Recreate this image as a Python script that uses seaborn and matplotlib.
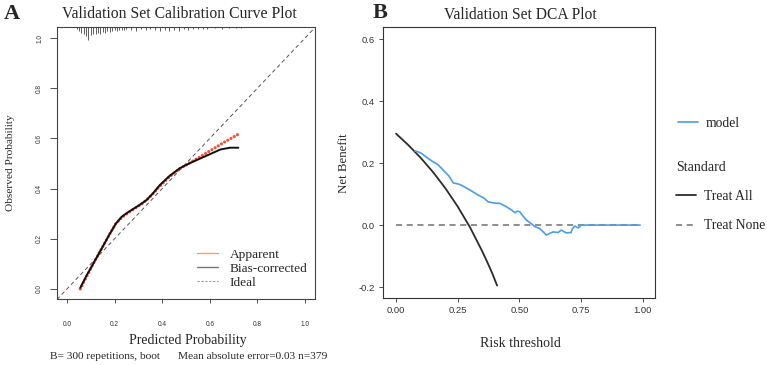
import numpy as np
import pandas as pd
import matplotlib
matplotlib.use('Agg')
import matplotlib.pyplot as plt
from matplotlib.lines import Line2D
import seaborn as sns

sns.set_theme(style='white')
plt.rcParams['font.family'] = ['Liberation Serif', 'DejaVu Serif']

# calibration curve (panel A)
pred_x = [0.056, 0.08, 0.11, 0.145, 0.18, 0.205, 0.23, 0.255, 0.28, 0.31, 0.335, 0.36, 0.39, 0.43, 0.475, 0.52, 0.56, 0.60, 0.645, 0.685, 0.72]
bias_y = [0.005, 0.05, 0.10, 0.16, 0.22, 0.26, 0.288, 0.305, 0.32, 0.338, 0.355, 0.38, 0.414, 0.45, 0.482, 0.503, 0.52, 0.537, 0.556, 0.563, 0.563]
app_y = [0.0, 0.045, 0.10, 0.16, 0.22, 0.26, 0.285, 0.302, 0.318, 0.336, 0.355, 0.378, 0.41, 0.447, 0.48, 0.505, 0.527, 0.55, 0.576, 0.598, 0.617]

# distribution of predicted probabilities (spikes on top)
rug_x = [0.04, 0.05, 0.06, 0.07, 0.08, 0.09, 0.10, 0.11, 0.12, 0.13, 0.14, 0.15, 0.16, 0.17, 0.18,
         0.19, 0.20, 0.21, 0.22, 0.23, 0.24, 0.25, 0.27, 0.29, 0.31, 0.33, 0.35, 0.37, 0.39, 0.41,
         0.43, 0.45, 0.47, 0.49, 0.51, 0.53, 0.55, 0.57, 0.59, 0.62, 0.65, 0.68, 0.71, 0.73]
rug_n = [2, 4, 6, 8, 10, 14, 9, 8, 7, 6, 8, 5, 6, 4, 5,
         4, 3, 4, 3, 3, 3, 2, 3, 4, 2, 3, 2, 3, 4, 3,
         4, 3, 4, 2, 3, 2, 2, 2, 2, 1, 2, 1, 1, 1]

# decision curve (panel B)
all_t = [0.0, 0.05, 0.10, 0.15, 0.20, 0.25, 0.30, 0.35, 0.375, 0.39, 0.41]
all_nb = [0.295, 0.258, 0.217, 0.171, 0.119, 0.060, -0.007, -0.085, -0.128, -0.155, -0.195]
model_t = [0.077, 0.09, 0.104, 0.125, 0.145, 0.17, 0.192, 0.215, 0.232, 0.245, 0.259, 0.28, 0.30, 0.333,
           0.355, 0.374, 0.40, 0.421, 0.448, 0.47, 0.482, 0.492, 0.502, 0.509, 0.529, 0.55, 0.563, 0.583,
           0.61, 0.625, 0.637, 0.657, 0.67, 0.69, 0.71, 0.715, 0.725, 0.738, 0.752, 0.85, 0.99]
model_nb = [0.239, 0.236, 0.231, 0.218, 0.207, 0.195, 0.177, 0.158, 0.136, 0.134, 0.131, 0.122, 0.113, 0.097,
            0.088, 0.075, 0.071, 0.070, 0.059, 0.048, 0.040, 0.045, 0.043, 0.035, 0.016, 0.004, -0.005, -0.011,
            -0.032, -0.026, -0.022, -0.024, -0.016, -0.025, -0.024, -0.012, -0.003, -0.009, 0.0, 0.0, 0.0]
none_t = [0.0, 0.99]
none_nb = [0.0, 0.0]

fig = plt.figure(figsize=(7.67, 3.65), dpi=100)

# ---------- panel A ----------
ax1 = fig.add_axes([0.0743, 0.1808, 0.3364, 0.7452])
ax1.set_xlim(-0.042, 1.042)
ax1.set_ylim(-0.04, 1.044)
ax1.plot([-0.042, 1.042], [-0.042, 1.042], color='#555555', lw=0.7, ls=(0, (4, 3)))
ax1.vlines(rug_x, 1.044 - np.array(rug_n) * 0.0037, 1.044, color='#444444', lw=0.6)

cal = pd.DataFrame({'x': pred_x, 'app': app_y, 'bias': bias_y})
sns.lineplot(data=cal, x='x', y='app', ax=ax1, color='#F2533B', lw=2.3,
             linestyle=(0, (0.01, 1.15)), dash_capstyle='round', sort=False)
sns.lineplot(data=cal, x='x', y='bias', ax=ax1, color='#111111', lw=1.4, sort=False)

ax1.set_xticks([0, 0.2, 0.4, 0.6, 0.8, 1.0])
ax1.set_yticks([0, 0.2, 0.4, 0.6, 0.8, 1.0])
ax1.set_xticklabels(['0.0', '0.2', '0.4', '0.6', '0.8', '1.0'])
ax1.set_yticklabels(['0.0', '0.2', '0.4', '0.6', '0.8', '1.0'], rotation=90, va='center')
ax1.tick_params(axis='x', length=3, width=0.6, color='#333333', pad=13, labelsize=4.7,
                labelcolor='#333333', labelfontfamily='Liberation Sans')
ax1.tick_params(axis='y', length=5, width=0.6, color='#333333', pad=5, labelsize=4.7,
                labelcolor='#333333', labelfontfamily='Liberation Sans')
ax1.tick_params(bottom=True, left=True)
for s in ax1.spines.values():
    s.set_color('#444444')
    s.set_linewidth(0.8)
ax1.set_xlabel('')
ax1.set_ylabel('')

h1 = [Line2D([], [], color='#F49A8E', lw=1.0),
      Line2D([], [], color='#777777', lw=1.0),
      Line2D([], [], color='#999999', lw=0.8, ls=(0, (2, 1.5)))]
fig.legend(h1, ['Apparent', 'Bias-corrected', 'Ideal'], loc='upper left',
           bbox_to_anchor=(0.257, 0.319), frameon=False, fontsize=9.6, borderpad=0, borderaxespad=0,
           handlelength=1.6, handletextpad=0.85, labelspacing=0.12)

fig.text(0.234, 0.962, 'Validation Set Calibration Curve Plot', ha='center', va='center', fontsize=11.3)
fig.text(0.016, 0.962, 'A', ha='center', va='center', fontsize=16, fontweight='bold')
fig.text(0.245, 0.066, 'Predicted Probability', ha='center', va='center', fontsize=10)
fig.text(0.065, 0.022, 'B= 300 repetitions, boot', ha='left', va='center', fontsize=8.2)
fig.text(0.232, 0.022, 'Mean absolute error=0.03 n=379', ha='left', va='center', fontsize=8.2)
fig.text(0.014, 0.555, 'Observed Probability', ha='center', va='center', rotation=90, fontsize=8.2)

# ---------- panel B ----------
ax2 = fig.add_axes([0.4993, 0.1836, 0.3546, 0.7425])
dca_all = pd.DataFrame({'t': all_t, 'nb': all_nb})
dca_model = pd.DataFrame({'t': model_t, 'nb': model_nb})
dca_none = pd.DataFrame({'t': none_t, 'nb': none_nb})
sns.lineplot(data=dca_none, x='t', y='nb', ax=ax2, color='#707070', lw=1.1, linestyle=(0, (4, 3)))
sns.lineplot(data=dca_all, x='t', y='nb', ax=ax2, color='#2b2b2b', lw=1.3)
sns.lineplot(data=dca_model, x='t', y='nb', ax=ax2, color='#4A9DE6', lw=1.2)
ax2.set_xlim(-0.053, 1.05)
ax2.set_ylim(-0.235, 0.639)
ax2.set_xticks([0, 0.25, 0.5, 0.75, 1.0])
ax2.set_xticklabels(['0.00', '0.25', '0.50', '0.75', '1.00'])
ax2.set_yticks([-0.2, 0, 0.2, 0.4, 0.6])
ax2.set_yticklabels(['-0.2', '0.0', '0.2', '0.4', '0.6'])
ax2.tick_params(length=3, width=0.6, color='#333333', pad=3, labelsize=6.8,
                labelcolor='#333333', labelfontfamily='Liberation Sans', bottom=True, left=True)
for s in ax2.spines.values():
    s.set_color('#333333')
    s.set_linewidth(0.8)
ax2.set_xlabel('')
ax2.set_ylabel('')

fig.text(0.679, 0.959, 'Validation Set DCA Plot', ha='center', va='center', fontsize=11.2)
fig.text(0.495, 0.965, 'B', ha='center', va='center', fontsize=16, fontweight='bold')
fig.text(0.679, 0.060, 'Risk threshold', ha='center', va='center', fontsize=10)
fig.text(0.449, 0.553, 'Net Benefit', ha='center', va='center', rotation=90, fontsize=9.3)

lg1 = fig.legend([Line2D([], [], color='#4A9DE6', lw=1.2)], ['model'], loc='center left',
                 bbox_to_anchor=(0.884, 0.661), frameon=False, fontsize=9.8, borderpad=0,
                 borderaxespad=0, handlelength=1.5, handletextpad=0.55)
h2 = [Line2D([], [], color='#2b2b2b', lw=1.3), Line2D([], [], color='#707070', lw=1.1, ls=(0, (4, 3)))]
lg2 = fig.legend(h2, ['Treat All', 'Treat None'], title='Standard', loc='upper left',
                 bbox_to_anchor=(0.881, 0.56), frameon=False, fontsize=9.8, title_fontsize=10,
                 borderpad=0, borderaxespad=0, handlelength=1.5, handletextpad=0.6,
                 labelspacing=1.2, alignment='left')

fig.savefig('out.png', dpi=100)
